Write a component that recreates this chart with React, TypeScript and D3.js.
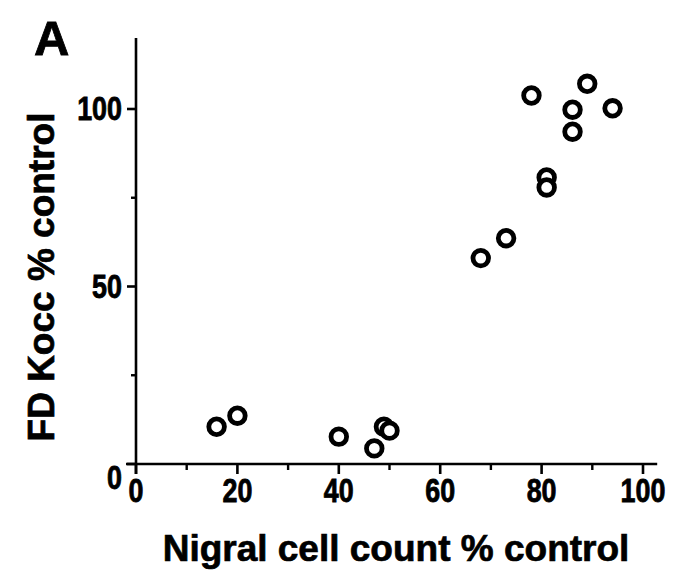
import React from "react";
import * as d3 from "d3";

const nigralCount = [15.9, 20.0, 40.0, 47.0, 48.9, 50.0, 68.0, 73.0, 78.0, 81.0, 81.0, 86.1, 86.1, 89.0, 94.0];
const fdKocc = [10.5, 13.6, 7.7, 4.4, 10.5, 9.4, 58.0, 63.6, 103.8, 80.7, 77.9, 99.8, 93.6, 107.1, 100.2];
const xMajorTicks = [0, 20, 40, 60, 80, 100];
const xMinorTicks = [10, 30, 50, 70, 90];
const yMajorTicks = [0, 50, 100];
const yMinorTicks = [25, 75];
const xTitle = "Nigral cell count % control";
const yTitle = "FD Kocc % control";
const panelLabel = "A";

const W = 679;
const H = 571;
const FONT = "'Liberation Sans', Arial, Helvetica, sans-serif";

export default function App() {
  const x = d3.scaleLinear().domain([0, 100]).range([136, 643]);
  const y = d3.scaleLinear().domain([0, 120]).range([464, 38]);
  const pts = nigralCount.map((v, i) => ({ x: v, y: fdKocc[i] }));
  const axisColor = "#000";
  const x0 = x(0);
  const y0 = y(0);
  const labelScale = "scale(0.96, 1.16)";

  return (
    <svg
      width={W}
      height={H}
      viewBox={`0 0 ${W} ${H}`}
      style={{ position: "absolute", left: 0, top: 0, background: "#fff" }}
      fontFamily={FONT}
      fontWeight="bold"
    >
      <rect x={0} y={0} width={W} height={H} fill="#fff" />
      {/* panel label */}
      <text x={34} y={55} fontSize={49} fill="#000" stroke="#000" strokeWidth={0.8}>{panelLabel}</text>

      {/* y axis */}
      <line x1={x0} x2={x0} y1={y(120)} y2={y0 + 10} stroke={axisColor} strokeWidth={2.6} />
      {yMajorTicks.map((t) => (
        <line key={"ym" + t} x1={x0 - 9} x2={x0} y1={y(t)} y2={y(t)} stroke={axisColor} strokeWidth={2.6} />
      ))}
      {yMinorTicks.map((t) => (
        <line key={"yn" + t} x1={x0 - 5} x2={x0} y1={y(t)} y2={y(t)} stroke={axisColor} strokeWidth={2.4} />
      ))}
      {yMajorTicks.map((t) => (
        <text
          key={"yl" + t}
          transform={`translate(${x0 - 14}, ${y(t) + (t === 0 ? 14 : 0) + 11}) ${labelScale}`}
          textAnchor="end"
          fontSize={28}
          fill="#000"
          stroke="#000"
          strokeWidth={0.7}
        >
          {t}
        </text>
      ))}

      {/* x axis */}
      <line x1={x0 - 10} x2={x(102.8)} y1={y0} y2={y0} stroke={axisColor} strokeWidth={2.6} />
      {xMajorTicks.map((t) => (
        <line key={"xm" + t} x1={x(t)} x2={x(t)} y1={y0} y2={y0 + 10} stroke={axisColor} strokeWidth={2.6} />
      ))}
      {xMinorTicks.map((t) => (
        <line key={"xn" + t} x1={x(t)} x2={x(t)} y1={y0} y2={y0 + 6} stroke={axisColor} strokeWidth={2.4} />
      ))}
      {xMajorTicks.map((t) => (
        <text
          key={"xl" + t}
          transform={`translate(${x(t)}, ${y0 + 38}) ${labelScale}`}
          textAnchor="middle"
          fontSize={28}
          fill="#000"
          stroke="#000"
          strokeWidth={0.7}
        >
          {t}
        </text>
      ))}

      {/* axis titles */}
      <text x={396} y={561} textAnchor="middle" fontSize={37} fill="#000" stroke="#000" strokeWidth={0.7}>
        {xTitle}
      </text>
      <text
        transform={`translate(54, 277) rotate(-90)`}
        textAnchor="middle"
        fontSize={37}
        fill="#000"
        stroke="#000"
        strokeWidth={0.7}
      >
        {yTitle}
      </text>

      {/* points */}
      {pts.map((p, i) => (
        <circle key={i} cx={x(p.x)} cy={y(p.y)} r={7.8} fill="#fff" stroke="#000" strokeWidth={4.8} />
      ))}
    </svg>
  );
}
